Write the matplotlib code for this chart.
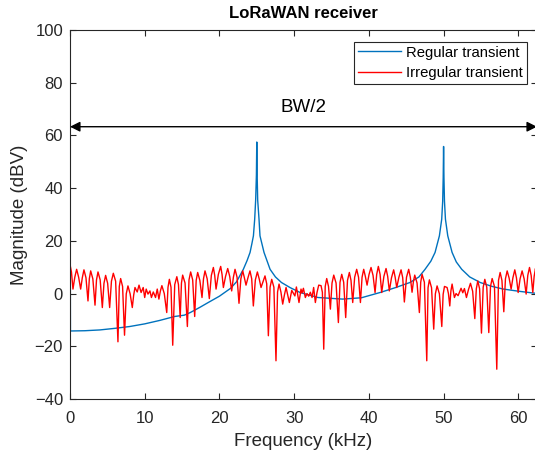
import matplotlib
matplotlib.use("Agg")
import matplotlib.pyplot as plt

# --------------------------------------------
# データ
# --------------------------------------------

# Regular transient (青)
reg_freq = [0, 0.06, 2, 4, 6, 8, 10, 12, 14, 15.3, 16.1, 17.4, 18.5, 20, 21.5,
            22.3, 23.2, 23.7, 24.1, 24.35, 24.55, 24.72, 24.85, 24.95, 25.0,
            25.05, 25.12, 25.3, 25.43, 25.97, 26.78, 27.5, 28.3, 29.5, 30.8,
            33.2, 36.5, 39, 41.5, 43.5, 45.5, 46.7, 47.52, 48.3, 48.86, 49.44,
            49.75, 49.88, 49.95, 50.0, 50.05, 50.12, 50.25, 50.56, 51.14, 51.7,
            52.43, 53.5, 54.9, 56.5, 58.0, 60, 62, 62.5]
reg_mag = [60.5, -14.2, -14.1, -13.8, -13.2, -12.5, -11.5, -10.2, -8.7, -8.2,
           -7.2, -5.2, -3.4, -1.0, 2.0, 4.5, 9.2, 12.5, 15.6, 19.0, 21.9, 28.2,
           35.5, 45.0, 57.5, 45.0, 35.5, 28.2, 21.9, 15.6, 9.2, 6.3, 4.2, 2.2,
           0.4, -1.5, -2.1, -1.6, 0.4, 2.2, 4.2, 6.3, 9.2, 12.3, 15.6, 21.9,
           28.2, 35.0, 44.0, 55.8, 44.0, 35.0, 28.2, 21.9, 15.6, 12.0, 9.2, 6.3,
           4.2, 2.7, 1.7, 0.9, 0.2, 0.1]

# Irregular transient (赤)
irr_freq = [0.0, 0.2, 0.4, 0.645, 0.89, 1.16, 1.43, 1.65, 1.87, 2.14, 2.41, 2.59,
            2.77, 3.06, 3.35, 3.55, 3.75, 4.04, 4.33, 4.55, 4.77, 5.04, 5.31, 5.55,
            5.8, 6.11, 6.42, 6.6, 6.78, 7.04, 7.3, 7.53, 7.76, 8.05, 8.34, 8.52, 8.7,
            9.0, 9.24, 9.52, 9.8, 10.0, 10.2, 10.44, 10.7, 10.9, 11.15, 11.45, 11.68,
            11.9, 12.1, 12.3, 12.62, 12.95, 13.12, 13.3, 13.52, 13.75, 14.02, 14.3,
            14.52, 14.75, 14.92, 15.08, 15.4, 15.71, 15.93, 16.15, 16.42, 16.69,
            16.89, 17.09, 17.38, 17.67, 17.87, 18.07, 18.36, 18.65, 18.92, 19.19,
            19.37, 19.55, 19.86, 20.17, 20.35, 20.53, 20.82, 21.11, 21.38, 21.64,
            21.87, 22.09, 22.36, 22.62, 22.87, 23.12, 23.34, 23.56, 23.83, 24.09,
            24.32, 24.54, 24.81, 25.08, 25.33, 25.57, 25.84, 26.1, 26.33, 26.55,
            26.78, 27.0, 27.29, 27.57, 27.78, 27.98, 28.23, 28.47, 28.7, 28.92,
            29.14, 29.36, 29.68, 30.1, 30.3, 30.65, 30.92, 31.06, 31.24, 31.5,
            31.72, 31.95, 32.17, 32.4, 32.61, 32.84, 33.06, 33.29, 33.6, 33.78,
            33.96, 34.16, 34.36, 34.6, 34.85, 35.07, 35.3, 35.61, 35.92, 36.14,
            36.37, 36.63, 36.9, 37.14, 37.39, 37.61, 37.84, 38.1, 38.37, 38.62,
            38.87, 39.09, 39.31, 39.53, 39.76, 40.02, 40.29, 40.56, 40.83, 41.05,
            41.27, 41.5, 41.72, 42.01, 42.3, 42.52, 42.74, 43.03, 43.32, 43.52,
            43.73, 44.02, 44.31, 44.53, 44.75, 45.04, 45.33, 45.55, 45.78, 45.96,
            46.14, 46.45, 46.76, 46.94, 47.12, 47.43, 47.75, 47.92, 48.1, 48.39,
            48.68, 48.9, 49.13, 49.44, 49.76, 49.94, 50.12, 50.47, 50.65, 50.83,
            50.98, 51.14, 51.45, 51.67, 51.94, 52.34, 52.57, 52.79, 53.06, 53.33,
            53.6, 53.89, 54.18, 54.38, 54.58, 54.82, 55.07, 55.3, 55.52, 55.78,
            56.05, 56.28, 56.5, 56.81, 57.12, 57.35, 57.57, 57.81, 58.06, 58.28,
            58.51, 58.77, 59.04, 59.28, 59.53, 59.75, 59.98, 60.24, 60.51, 60.78,
            61.05, 61.27, 61.5, 61.72, 61.94, 62.12, 62.3, 62.5]
irr_mag = [11.1, 8.1, 1.7, 6.2, 9.2, 6.2, 1.7, 6.0, 9.0, 6.0, -2.8, 5.6,
           8.6, 5.6, -4.4, 5.2, 8.2, 5.2, -5.3, 3.9, 6.9, 3.9, -5.3, 4.7,
           7.7, 4.7, -18.3, 2.7, 5.7, 2.7, -15.8, -0.1, 2.9, -0.1, -5.3, -0.7, 2.3,
           0.6, 3.2, 0.4, 2.3, -1.5, 1.7, -0.2, 1.0, -1.5, 0.6, -1.5, 1.7,
           -2.1, 1.0, 3.0, 0.0, -7.2, 2.4, 5.4, 2.4, -19.6, 3.4, 6.4,
           3.4, -9.1, 4.0, 7.0, 4.0, -12.5, 5.2, 8.2, 5.2, -8.7,
           5.0, 8.0, 5.0, -1.5, 5.6, 8.6, 5.6, -1.9, 6.9, 9.9,
           6.9, 1.7, 7.3, 10.3, 7.3, 2.3, 6.5, 9.5, 6.5, 1.0,
           6.2, 9.2, 6.2, -3.7, 5.6, 8.6, 6.0, 3.2, 6.1, 8.6,
           5.6, -4.7, 5.2, 8.2, 5.5, 2.3, 4.5, 6.7, 3.7, -16.0,
           2.4, 5.4, 2.4, -25.5, 0.6, 3.6, 0.6, -4.0, -0.5, 2.3,
           -0.5, -3.4, 1.2, -0.9, 2.5, -3.4, 1.7, 0.2, 2.0, -1.5,
           0.0, -1.0, 0.5, -1.5, 2.3, -3.4, 0.4, 3.2, 3.0, 0.5,
           -21.1, 2.7, 5.7, 2.7, -5.9, 4.0, 7.0, 4.0, -11.0, 4.3,
           7.3, 4.3, -9.1, 5.0, 8.0, 5.0, -3.4, 6.2, 9.2, 6.2,
           -3.4, 6.2, 9.2, 6.5, 3.2, 7.2, 9.9, 6.9, 0.4, 7.3,
           10.3, 7.3, 0.4, 6.5, 9.5, 6.5, 1.0, 6.0, 9.0, 6.2,
           2.3, 6.2, 9.0, 6.0, -3.2, 6.2, 9.2, 6.2, 0.5, 4.5,
           7.0, 4.0, -7.2, 4.3, 7.3, 4.3, -25.5, 2.2, 5.2, 2.2,
           -13.5, -0.1, 2.9, -0.1, -12.5, -0.3, 2.7, 2.3, 0.0, -4.7,
           1.0, 3.6, -1.5, 0.0, -0.8, 2.0, 0.3, 1.9, -1.5, 1.5,
           3.9, 0.9, -9.5, 1.8, 4.8, 1.8, -15.0, 2.4, 5.4, 2.4,
           -14.8, 2.7, 5.7, 2.7, -28.7, 5.0, 8.0, 5.0, -6.9, 5.6,
           8.6, 5.9, 1.7, 6.0, 9.0, 6.0, 0.4, 5.6, 8.6, 5.6,
           -0.2, 6.9, 9.9, 6.9, 0.4, 6.5, 9.5, 5.0]

x_ticks = [0, 10, 20, 30, 40, 50, 60]
y_ticks = [-40, -20, 0, 20, 40, 60, 80, 100]

# --------------------------------------------
# 描画
# --------------------------------------------

plt.rcParams['font.family'] = ['Liberation Sans', 'DejaVu Sans']
axis_color = '#262626'

fig = plt.figure(figsize=(5.35, 4.55), dpi=100)
ax = fig.add_axes([0.1308, 0.1231, 0.8729, 0.811])

ax.plot(reg_freq, reg_mag, color='#0072BD', lw=1.0, label='Regular transient')
ax.plot(irr_freq, irr_mag, color='#FF0000', lw=1.0, label='Irregular transient')

# BW/2 の矢印
ax.annotate('', xy=(0, 63.3), xytext=(62.5, 63.3),
            arrowprops=dict(arrowstyle='<|-|>', color='black', lw=1.0,
                            mutation_scale=15, shrinkA=0, shrinkB=0),
            annotation_clip=False)
ax.text(31.25, 70.5, 'BW/2', ha='center', va='center', fontsize=13.5, color='black')

ax.set_xlim(0, 62.5)
ax.set_ylim(-40, 100)
ax.set_xticks(x_ticks)
ax.set_yticks(y_ticks)
ax.tick_params(direction='in', top=True, right=True, length=4, width=0.8,
               labelsize=12, colors=axis_color, labelcolor=axis_color)
ax.tick_params(axis='x', pad=8.5)
ax.tick_params(axis='y', pad=5)
for sp in ax.spines.values():
    sp.set_color(axis_color)
    sp.set_linewidth(0.8)

ax.set_title('LoRaWAN receiver', fontsize=12, fontweight='bold', color='black', pad=8.5)
ax.set_xlabel('Frequency (kHz)', fontsize=13.5, color=axis_color, labelpad=5)
ax.set_ylabel('Magnitude (dBV)', fontsize=13.5, color=axis_color, labelpad=5)

leg = ax.legend(loc='upper right', bbox_to_anchor=(0.978, 0.968), fontsize=10.7,
                fancybox=False, framealpha=1, edgecolor=axis_color,
                handlelength=2.9, borderpad=0.25, labelspacing=0.45,
                handletextpad=0.35, borderaxespad=0)
leg.get_frame().set_linewidth(0.8)

fig.savefig('out.png', dpi=100)
